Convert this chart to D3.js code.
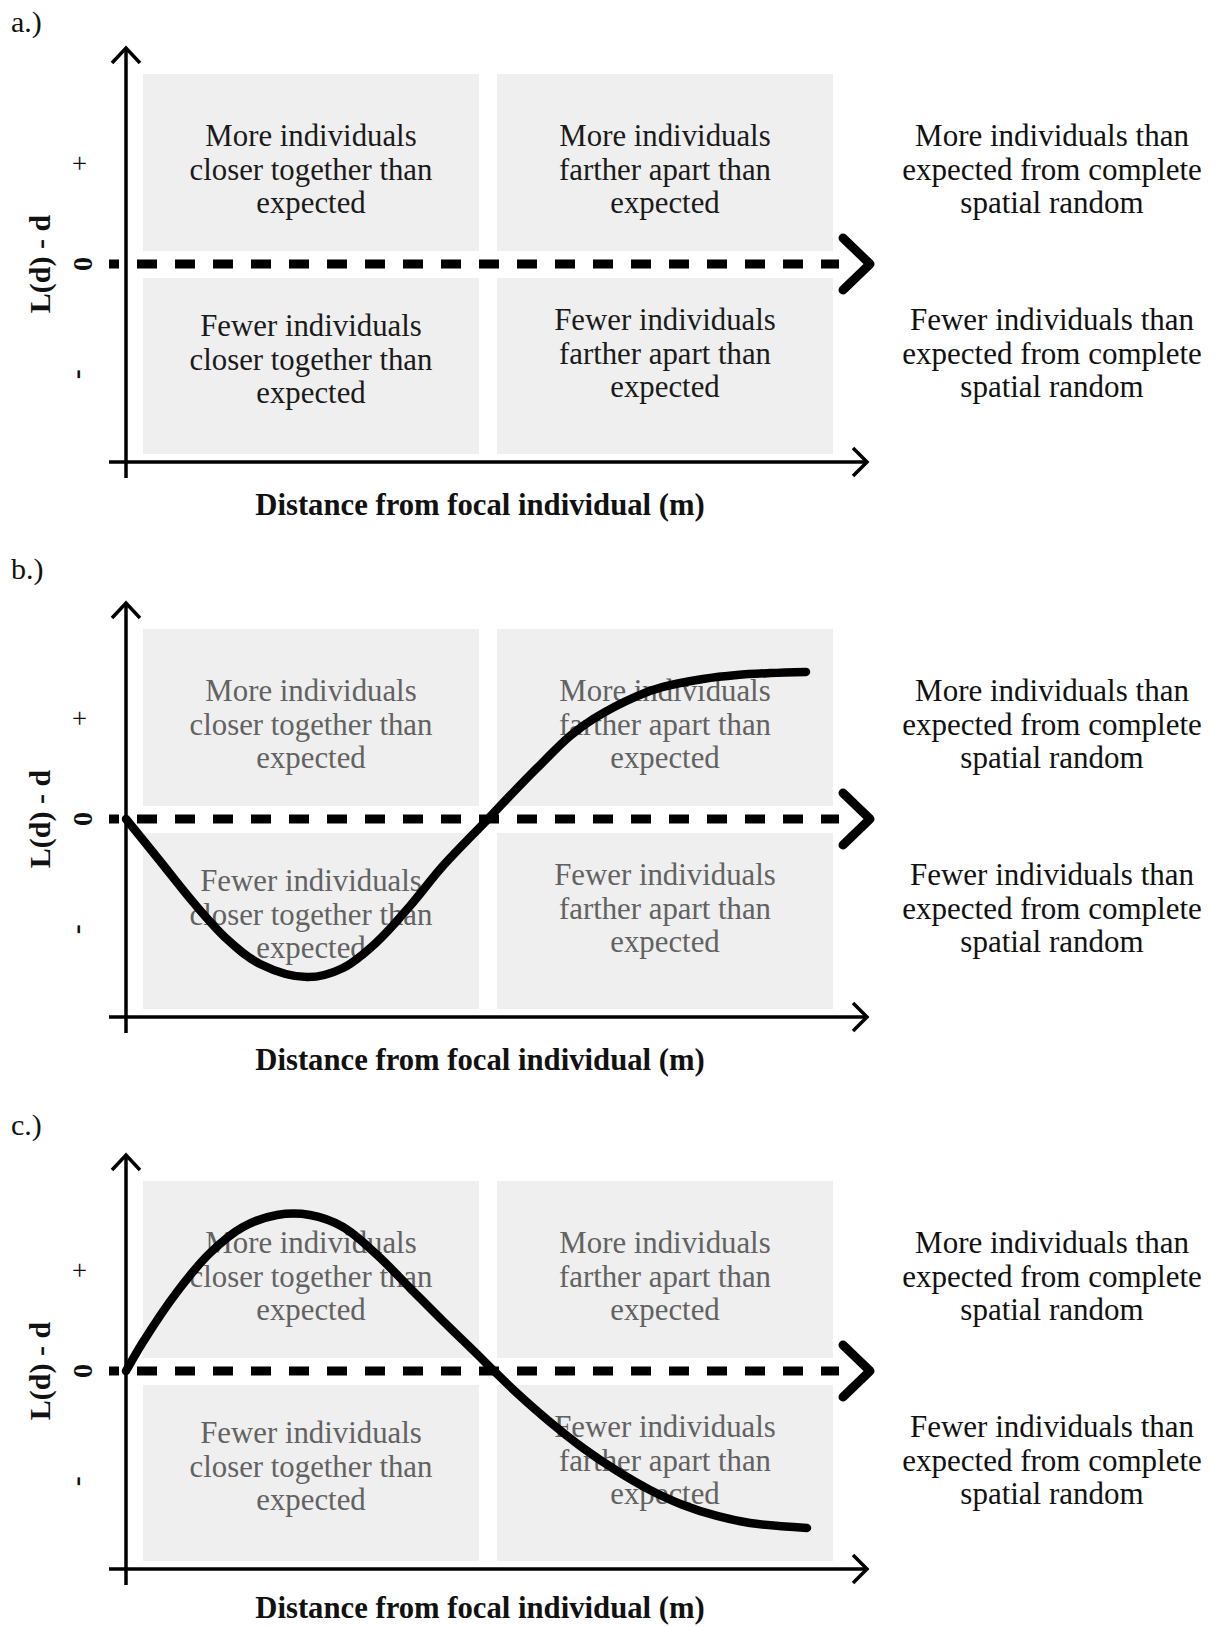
<!DOCTYPE html>
<html>
<head>
<meta charset="utf-8">
<script src="https://cdn.jsdelivr.net/npm/d3@7"></script>
<style>
  html, body { margin: 0; padding: 0; background: #fff; }
  svg { display: block; }
</style>
</head>
<body>
<script>
// ---- Content ----
const panelTags = ["a.)", "b.)", "c.)"];

const yTitle = "L(d) - d";
const xTitle = "Distance from focal individual (m)";

// Sign markers on the vertical axis (value in L(d) - d units)
const yTickLabels = ["+", "0", "-"];
const yTickValues = [0.53, 0, -0.58];

// Quadrant captions: upper-left, upper-right, lower-left, lower-right
const quadrantText = [
  ["More individuals", "closer together than", "expected"],
  ["More individuals", "farther apart than", "expected"],
  ["Fewer individuals", "closer together than", "expected"],
  ["Fewer individuals", "farther apart than", "expected"]
];

// Captions to the right of the plot: above zero, below zero
const sideText = [
  ["More individuals than", "expected from complete", "spatial random"],
  ["Fewer individuals than", "expected from complete", "spatial random"]
];

// Example L(d) - d curve for panel b: dispersed at short range, clustered further out
const curveDistanceB = [0, 0.458, 0.903, 1.361, 1.806, 2.439, 2.925, 3.383, 3.827, 4.272, 4.879,
                        5.081, 5.539, 5.984, 6.294, 6.887, 7.237, 7.776, 8.235, 8.679, 9.164];
const curveValueB    = [0, -0.221, -0.437, -0.632, -0.763, -0.832, -0.784, -0.647, -0.458, -0.247, 0,
                        0.084, 0.268, 0.437, 0.526, 0.647, 0.695, 0.737, 0.758, 0.768, 0.774];

// Panel c: clustered at short range, dispersed further out
const curveDistanceC = [0, 0.229, 0.687, 1.132, 1.577, 2.035, 2.480, 2.925, 3.383, 3.827, 4.272, 4.730, 4.960,
                        5.270, 5.714, 6.159, 6.617, 7.062, 7.507, 7.965, 8.410, 9.178];
const curveValueC    = [0, 0.153, 0.416, 0.621, 0.758, 0.821, 0.821, 0.758, 0.611, 0.437, 0.263, 0.089, 0,
                        -0.116, -0.268, -0.405, -0.526, -0.626, -0.705, -0.763, -0.800, -0.826];

const panelCurves = [
  null,
  curveDistanceB.map((d, i) => [d, curveValueB[i]]),
  curveDistanceC.map((d, i) => [d, curveValueC[i]])
];

// ---- Layout ----
const W = 1218, H = 1627;
const panelTop = [0, 555, 1107];
const tagBaseline = [32, 579, 1135];
const xTitleBaseline = [515, 515, 511];
const serif = "'Liberation Serif', 'Times New Roman', Times, serif";

const x = d3.scaleLinear().domain([0, 10]).range([126, 868]);
const y = d3.scaleLinear().domain([-1, 1]).range([454, 74]);

const svg = d3.select("body").append("svg")
  .attr("width", W).attr("height", H)
  .attr("viewBox", `0 0 ${W} ${H}`);

const boxX = [[143, 479], [497, 833]];
const boxY = [[74, 251], [278, 454]];
// first baseline of each quadrant caption
const captionBase = [146, 146, 336, 330];
const sideBase = [146, 330];
const lineGap = 33.5;

panelTags.forEach((tag, p) => {
  const g = svg.append("g").attr("transform", `translate(0,${panelTop[p]})`);
  const textFill = p === 0 ? "#1a1a1a" : "#626262";

  svg.append("text")
    .attr("x", 11).attr("y", tagBaseline[p])
    .attr("font-family", serif).attr("font-size", 30).attr("fill", "#111")
    .text(tag);

  // quadrant backgrounds and captions
  quadrantText.forEach((lines, q) => {
    const col = q % 2, row = Math.floor(q / 2);
    g.append("rect")
      .attr("x", boxX[col][0]).attr("y", boxY[row][0])
      .attr("width", boxX[col][1] - boxX[col][0])
      .attr("height", boxY[row][1] - boxY[row][0])
      .attr("fill", "#efefef");
    const cx = (boxX[col][0] + boxX[col][1]) / 2;
    g.append("text")
      .attr("font-family", serif).attr("font-size", 30.8)
      .attr("fill", textFill).attr("text-anchor", "middle")
      .selectAll("tspan").data(lines).join("tspan")
      .attr("x", cx)
      .attr("y", (d, i) => captionBase[q] + i * lineGap)
      .text(d => d);
  });

  // side captions
  sideText.forEach((lines, s) => {
    g.append("text")
      .attr("font-family", serif).attr("font-size", 31)
      .attr("fill", "#111").attr("text-anchor", "middle")
      .selectAll("tspan").data(lines).join("tspan")
      .attr("x", 1052)
      .attr("y", (d, i) => sideBase[s] + i * lineGap)
      .text(d => d);
  });

  // zero reference line (dashed) with chevron
  g.append("line")
    .attr("x1", 109).attr("x2", 839)
    .attr("y1", y(0)).attr("y2", y(0))
    .attr("stroke", "#000").attr("stroke-width", 9)
    .attr("stroke-dasharray", "20,18").attr("stroke-dashoffset", 10);
  g.append("path")
    .attr("d", `M843,${y(0) - 26} L870,${y(0)} L843,${y(0) + 26}`)
    .attr("fill", "none").attr("stroke", "#000").attr("stroke-width", 9)
    .attr("stroke-linecap", "round").attr("stroke-linejoin", "round");

  // axes
  g.append("line")
    .attr("x1", x(0)).attr("x2", x(0)).attr("y1", 48).attr("y2", 478)
    .attr("stroke", "#000").attr("stroke-width", 3.5);
  g.append("path")
    .attr("d", `M112,63 L${x(0)},48 L140,63`)
    .attr("fill", "none").attr("stroke", "#000").attr("stroke-width", 3.5);
  g.append("line")
    .attr("x1", 109).attr("x2", x(10) - 1).attr("y1", 462).attr("y2", 462)
    .attr("stroke", "#000").attr("stroke-width", 3.5);
  g.append("path")
    .attr("d", `M853,448 L${x(10) - 1},462 L853,476`)
    .attr("fill", "none").attr("stroke", "#000").attr("stroke-width", 3.5);

  // sign markers
  yTickLabels.forEach((lab, i) => {
    const bx = lab === "0" ? 92 : (lab === "+" ? 89 : 86);
    g.append("text")
      .attr("transform", `translate(${bx},${y(yTickValues[i])}) rotate(-90)`)
      .attr("text-anchor", "middle")
      .attr("font-family", serif)
      .attr("font-size", lab === "-" ? 30 : 28)
      .attr("font-weight", lab === "+" ? "normal" : "bold")
      .attr("fill", "#111")
      .text(lab);
  });

  // axis titles
  g.append("text")
    .attr("transform", `translate(50,${y(0)}) rotate(-90)`)
    .attr("text-anchor", "middle")
    .attr("font-family", serif).attr("font-size", 30).attr("font-weight", "bold")
    .attr("fill", "#111")
    .text(yTitle);
  g.append("text")
    .attr("x", 480).attr("y", xTitleBaseline[p])
    .attr("text-anchor", "middle")
    .attr("font-family", serif).attr("font-size", 30.7).attr("font-weight", "bold")
    .attr("fill", "#111")
    .text(xTitle);

  // example curve
  if (panelCurves[p]) {
    const line = d3.line()
      .x(d => x(d[0])).y(d => y(d[1]))
      .curve(d3.curveCatmullRom.alpha(0.5));
    g.append("path")
      .datum(panelCurves[p])
      .attr("d", line)
      .attr("fill", "none").attr("stroke", "#000").attr("stroke-width", 8.5)
      .attr("stroke-linecap", "round").attr("stroke-linejoin", "round");
  }
});
</script>
</body>
</html>
